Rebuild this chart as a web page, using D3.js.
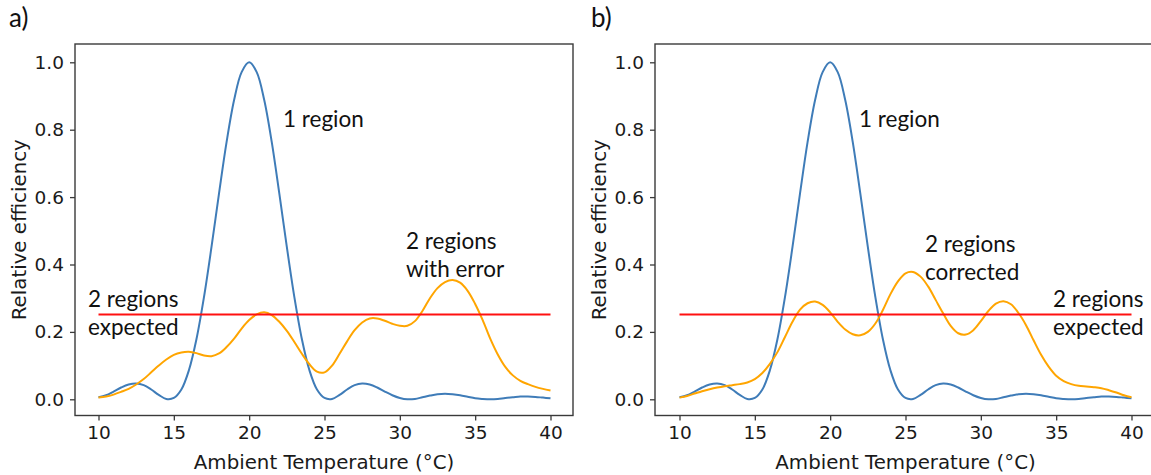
<!DOCTYPE html>
<html>
<head>
<meta charset="utf-8">
<script src="https://cdn.jsdelivr.net/npm/d3@7"></script>
<style>
  body { margin: 0; background: #fff; }
  svg { display: block; }
</style>
</head>
<body>
<svg id="chart" width="1151" height="475"></svg>
<script>
// Ambient temperature grid (°C)
const temperature = [
  10, 10.5, 11, 11.5, 12, 12.5, 13, 13.5, 14, 14.5,
  15, 15.5, 16, 16.5, 17, 17.5, 18, 18.5, 19, 19.5,
  20, 20.5, 21, 21.5, 22, 22.5, 23, 23.5, 24, 24.5,
  25, 25.5, 26, 26.5, 27, 27.5, 28, 28.5, 29, 29.5,
  30, 30.5, 31, 31.5, 32, 32.5, 33, 33.5, 34, 34.5,
  35, 35.5, 36, 36.5, 37, 37.5, 38, 38.5, 39, 39.5, 40
];

// Single-region efficiency (same in both panels)
const oneRegion = [
  0.006, 0.012, 0.023, 0.035, 0.044, 0.047, 0.042, 0.029, 0.013, 0.001,
  0.004, 0.029, 0.086, 0.178, 0.303, 0.452, 0.611, 0.763, 0.888, 0.971,
  1.000, 0.971, 0.888, 0.763, 0.611, 0.452, 0.303, 0.178, 0.086, 0.029,
  0.004, 0.001, 0.013, 0.029, 0.042, 0.047, 0.044, 0.035, 0.023, 0.012,
  0.004, 0.000, 0.001, 0.006, 0.011, 0.015, 0.0165, 0.015, 0.012, 0.0075,
  0.003, 0.001, 0.000, 0.001, 0.004, 0.006, 0.008, 0.008, 0.007, 0.005, 0.003
];

// Two regions, uncorrected (panel a)
const twoRegionsError = [
  0.005, 0.008, 0.014, 0.022, 0.031, 0.044, 0.060, 0.080, 0.100, 0.118,
  0.132, 0.139, 0.141, 0.137, 0.130, 0.128, 0.136, 0.155, 0.180, 0.210,
  0.235, 0.252, 0.258, 0.250, 0.230, 0.203, 0.170, 0.135, 0.104, 0.082,
  0.080, 0.100, 0.135, 0.172, 0.205, 0.228, 0.240, 0.240, 0.233, 0.224,
  0.218, 0.218, 0.232, 0.262, 0.300, 0.330, 0.348, 0.354, 0.346, 0.322,
  0.283, 0.235, 0.180, 0.133, 0.096, 0.071, 0.055, 0.045, 0.037, 0.031, 0.026
];

// Two regions, corrected (panel b)
const twoRegionsCorrected = [
  0.005, 0.010, 0.017, 0.024, 0.030, 0.035, 0.039, 0.042, 0.045, 0.050,
  0.060, 0.078, 0.105, 0.140, 0.185, 0.230, 0.266, 0.285, 0.290, 0.280,
  0.258, 0.230, 0.207, 0.193, 0.190, 0.200, 0.225, 0.265, 0.312, 0.350,
  0.374, 0.378, 0.364, 0.335, 0.295, 0.255, 0.218, 0.196, 0.192, 0.205,
  0.232, 0.262, 0.284, 0.291, 0.282, 0.256, 0.220, 0.175, 0.132, 0.097,
  0.070, 0.054, 0.045, 0.040, 0.038, 0.036, 0.033, 0.027, 0.020, 0.012, 0.006
];

// Expected level for two regions
const expectedLevel = 0.252;
const expectedSpan = [10, 40];

const xTicks = [10, 15, 20, 25, 30, 35, 40];
const yTicks = [0.0, 0.2, 0.4, 0.6, 0.8, 1.0];

const svg = d3.select("#chart");
svg.append("rect").attr("width", 1151).attr("height", 475).attr("fill", "#fff");

const tickFont = "'DejaVu Sans', sans-serif";
const noteFont = "Lato, 'Open Sans', sans-serif";
const inkColor = "#1a1a1a";

function panel(opts) {
  const { left, right, x10, x40, seriesB, tag, tagX, notes } = opts;
  const top = 44, bottom = 415.5;

  const x = d3.scaleLinear().domain([10, 40]).range([x10, x40]);
  const y = d3.scaleLinear().domain([0, 1]).range([399.3, 62.3]);

  const g = svg.append("g");

  // frame
  g.append("rect")
    .attr("x", left).attr("y", top)
    .attr("width", right - left).attr("height", bottom - top)
    .attr("fill", "none").attr("stroke", "#3a3a3a").attr("stroke-width", 1.4);

  // x axis
  const xAxis = d3.axisBottom(x).tickValues(xTicks).tickFormat(d3.format("d"))
    .tickSize(5).tickPadding(5);
  const gx = g.append("g").attr("transform", `translate(0,${bottom})`).call(xAxis);
  gx.select(".domain").remove();
  gx.selectAll(".tick line").attr("stroke", "#3a3a3a").attr("stroke-width", 1.3);
  gx.selectAll(".tick text").attr("font-family", tickFont).attr("font-size", 18.5)
    .attr("fill", inkColor);

  // y axis
  const yAxis = d3.axisLeft(y).tickValues(yTicks).tickFormat(d3.format(".1f"))
    .tickSize(5).tickPadding(6);
  const gy = g.append("g").attr("transform", `translate(${left},0)`).call(yAxis);
  gy.select(".domain").remove();
  gy.selectAll(".tick line").attr("stroke", "#3a3a3a").attr("stroke-width", 1.3);
  gy.selectAll(".tick text").attr("font-family", tickFont).attr("font-size", 18.5)
    .attr("fill", inkColor);

  // axis titles
  g.append("text")
    .attr("x", (left + right) / 2).attr("y", 469)
    .attr("text-anchor", "middle")
    .attr("font-family", tickFont).attr("font-size", 19.8).attr("fill", inkColor)
    .text("Ambient Temperature (°C)");
  g.append("text")
    .attr("transform", `translate(${left - 49},${(top + bottom) / 2}) rotate(-90)`)
    .attr("text-anchor", "middle")
    .attr("font-family", tickFont).attr("font-size", 19.8).attr("fill", inkColor)
    .text("Relative efficiency");

  // curves
  const line = d3.line()
    .x((d, i) => x(temperature[i]))
    .y(d => y(d))
    .curve(d3.curveCatmullRom.alpha(0.5));

  g.append("path").datum(oneRegion)
    .attr("d", line).attr("fill", "none")
    .attr("stroke", "#3f7cb8").attr("stroke-width", 2);

  g.append("path").datum(seriesB)
    .attr("d", line).attr("fill", "none")
    .attr("stroke", "#ffa500").attr("stroke-width", 2);

  g.append("line")
    .attr("x1", x(expectedSpan[0])).attr("x2", x(expectedSpan[1]))
    .attr("y1", y(expectedLevel)).attr("y2", y(expectedLevel))
    .attr("stroke", "#ff1010").attr("stroke-width", 2);

  // annotations
  notes.forEach(n => {
    const t = g.append("text")
      .attr("font-family", noteFont).attr("font-size", 22.5).attr("fill", "#111");
    n.lines.forEach((s, k) => {
      t.append("tspan").attr("x", n.x).attr("y", n.y + k * 28).text(s);
    });
  });

  // panel tag
  g.append("text")
    .attr("x", tagX).attr("y", 27)
    .attr("font-family", noteFont).attr("font-size", 26).attr("fill", "#111")
    .text(tag);
}

panel({
  left: 75, right: 573, x10: 98.5, x40: 550.5,
  seriesB: twoRegionsError, tag: "a)", tagX: 9,
  notes: [
    { x: 283, y: 127, lines: ["1 region"] },
    { x: 406, y: 249, lines: ["2 regions", "with error"] },
    { x: 88, y: 307, lines: ["2 regions", "expected"] }
  ]
});

panel({
  left: 655, right: 1156, x10: 679.5, x40: 1131.5,
  seriesB: twoRegionsCorrected, tag: "b)", tagX: 591,
  notes: [
    { x: 859, y: 127, lines: ["1 region"] },
    { x: 925, y: 252, lines: ["2 regions", "corrected"] },
    { x: 1053, y: 307, lines: ["2 regions", "expected"] }
  ]
});
</script>
</body>
</html>
